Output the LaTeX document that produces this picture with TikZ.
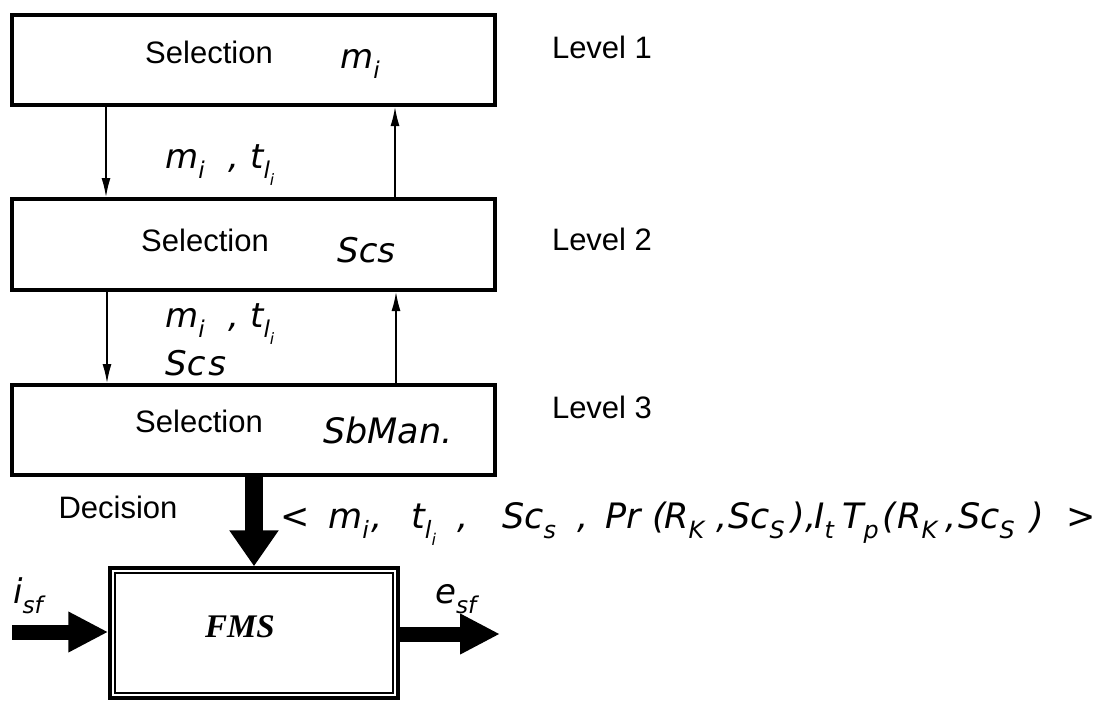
\documentclass[tikz,border=0pt]{standalone}
\usepackage{fontspec}
\setmainfont{Liberation Sans}
\newfontfamily\hand{DejaVu Sans}
\newfontfamily\fmsfont{Liberation Serif}
\usetikzlibrary{arrows.meta}

% lowered, reduced index for the lettered symbols
\newcommand\lsub[1]{\raisebox{-0.3em}{\scalebox{0.68}{#1}}}
% a piece of lettering given a fixed advance (in pt)
\newcommand\seg[2]{\makebox[#1pt][l]{#2}}

\tikzset{
  lvlbox/.style={draw, line width=4pt, minimum width=483pt, minimum height=90pt, inner sep=0pt},
  sel/.style={font=\fontsize{31}{36}\selectfont, inner sep=0pt},
  hw/.style={font=\hand\itshape\fontsize{34}{38}\selectfont, inner sep=0pt, anchor=base west},
  flow/.style={line width=1.5pt, -{Latex[length=19pt,width=9pt]}},
  bigflow/.style={line width=18pt, -{Triangle[length=36pt,width=47pt]}},
  ioflow/.style={line width=15pt, -{Triangle[length=40pt,width=38pt]}},
}

\begin{document}
\begin{tikzpicture}[x=1pt, y=-1pt]
  \useasboundingbox (0,0) rectangle (1107,701);

  % the three selection levels
  \node[lvlbox] (box1) at (253.5,60) {};
  \node[lvlbox, minimum height=91pt] (box2) at (253.5,244.5) {};
  \node[lvlbox] (box3) at (253.5,430) {};

  \node[sel] (sel1) at (209,52) {Selection};
  \node[sel] (sel2) at (205,240) {Selection};
  \node[sel] (sel3) at (199,421) {Selection};

  \node[hw] (mi1) at (340,68) {m\lsub{i}};
  \node[hw] (scs2) at (337,262) {Scs};
  \node[hw, font=\hand\itshape\fontsize{35}{38}\selectfont] (sbman) at (323,443) {SbMan.};

  \node[sel] (lvl1) at (602,47) {Level 1};
  \node[sel] (lvl2) at (602,239) {Level 2};
  \node[sel] (lvl3) at (602,407) {Level 3};

  % exchanges between the levels
  \draw[flow] ([xshift=96pt]box1.south west) -- ([xshift=96pt]box2.north west);
  \draw[flow] ([xshift=385pt]box2.north west) -- ([xshift=385pt]box1.south west);
  \draw[flow] ([xshift=97pt]box2.south west) -- ([xshift=97pt]box3.north west);
  \draw[flow] ([xshift=386pt]box3.north west) -- ([xshift=386pt]box2.south west);

  \node[hw] (lab12) at (165,168) {\seg{63}{m\lsub{i}}\seg{22}{,}t\lsub{l\lsub{i}}};
  \node[hw] (lab23) at (165,327) {\seg{63}{m\lsub{i}}\seg{22}{,}t\lsub{l\lsub{i}}};
  \node[hw] (lab23b) at (165,375) {Sc\hspace{3pt}s};

  % the manufacturing system
  \node[draw, line width=3.5pt, minimum width=288pt, minimum height=130pt, inner sep=0pt] (fms) at (254,633) {};
  \draw[line width=2pt] ([shift={(7pt,-7pt)}]fms.north west) rectangle ([shift={(-7pt,7pt)}]fms.south east);
  \node[font=\fmsfont\bfseries\itshape\fontsize{33}{36}\selectfont, inner sep=0pt] (fmstxt) at (240,627) {FMS};

  % decision passed down
  \coordinate (dx) at (254,0);
  \draw[bigflow] (box3.south -| dx) -- (fms.north -| dx);
  \node[sel] (decision) at (118,507) {Decision};
  \node[hw, font=\hand\itshape\fontsize{35}{38}\selectfont] (tuple) at (280,528) {%
    \seg{48}{<}\seg{43}{m\lsub{i}}\seg{40}{,}\seg{46}{t\lsub{l\lsub{i}}}\seg{45}{,}%
    \seg{75}{Sc\lsub{s}}\seg{28}{,}\seg{47}{Pr}\seg{12}{(}\seg{52}{R\lsub{K}}\seg{12}{,}%
    \seg{63}{Sc\lsub{S}}\seg{14}{)}\seg{9}{,}\seg{28}{I\lsub{t}}\seg{40}{T\lsub{p}}\seg{15}{(}%
    \seg{48}{R\lsub{K}}\seg{13}{,}\seg{72}{Sc\lsub{S}}\seg{36}{)}>};

  % input and output flows
  \coordinate (insrc) at (12,632);
  \coordinate (outdst) at (500,634);
  \draw[ioflow] (insrc) -- (fms.west |- insrc);
  \draw[ioflow] (fms.east |- outdst) -- (outdst);
  \node[hw] (isf) at (13,603) {i\lsub{sf}};
  \node[hw] (esf) at (435,603) {e\lsub{sf}};
\end{tikzpicture}
\end{document}
